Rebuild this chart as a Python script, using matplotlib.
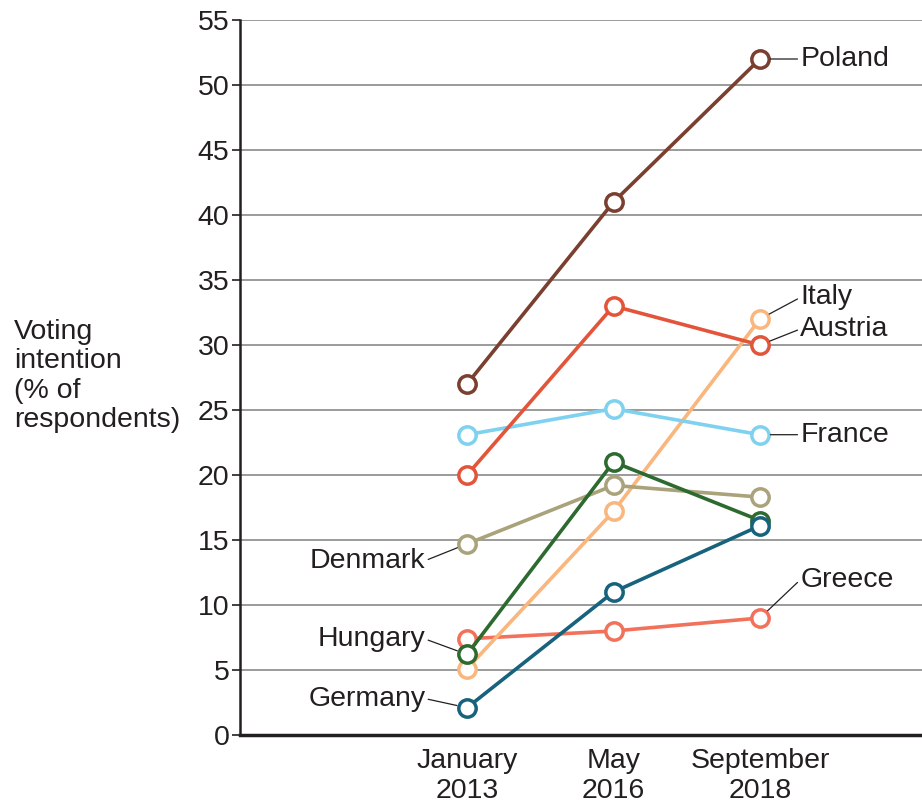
import matplotlib
matplotlib.use("Agg")
import matplotlib.pyplot as plt

plt.rcParams['font.family'] = ['Liberation Sans', 'DejaVu Sans']

# data
periods = ["January\n2013", "May\n2016", "September\n2018"]
countries = ["Poland", "Austria", "Italy", "France", "Denmark", "Hungary", "Germany", "Greece"]
poland = [27, 41, 52]
austria = [20, 33, 30]
italy = [5.1, 17.2, 32]
france = [23.1, 25.1, 23.1]
denmark = [14.7, 19.2, 18.3]
hungary = [6.2, 21, 16.5]
germany = [2.1, 11, 16.1]
greece = [7.4, 8, 9]
yticks = list(range(0, 56, 5))

series = {
    "Poland": (poland, "#7a3f2f"),
    "Austria": (austria, "#e2553a"),
    "Italy": (italy, "#f9b67d"),
    "France": (france, "#7ed1ef"),
    "Denmark": (denmark, "#a9a27a"),
    "Hungary": (hungary, "#2c6a2f"),
    "Germany": (germany, "#17627c"),
    "Greece": (greece, "#f2715a"),
}
draw_order = ["Greece", "Italy", "Denmark", "Hungary", "Germany", "France", "Austria", "Poland"]

# label placement: (point index, offset in points)
labels = {
    "Poland": (2, (29, 0)),
    "Italy": (2, (29, 15.5)),
    "Austria": (2, (29, 11.5)),
    "France": (2, (29, 0)),
    "Greece": (2, (29, 27.5)),
    "Denmark": (0, (-30, -12)),
    "Hungary": (0, (-30, 11)),
    "Germany": (0, (-30, 6.5)),
}

FS = 20.5
ink = "#231f20"

fig = plt.figure(figsize=(9.22, 8.05), dpi=100)
ax = fig.add_axes([240 / 922, 70 / 805, 682 / 922, 715 / 805])

x = list(range(len(periods)))
for name in draw_order:
    vals, col = series[name]
    ax.plot(x, vals, color=col, lw=2.6, marker="o", ms=12.5, mfc="white",
            mec=col, mew=2.5, zorder=3, clip_on=False)

for name in countries:
    vals, col = series[name]
    idx, off = labels[name]
    right = off[0] > 0
    ax.annotate(name, xy=(x[idx], vals[idx]), xytext=off, textcoords="offset points",
                ha="left" if right else "right", va="center", fontsize=FS, color=ink,
                arrowprops=dict(arrowstyle="-", color=ink, lw=0.9,
                                shrinkA=0, shrinkB=7.5,
                                relpos=(0, 0.5) if right else (1, 0.5)),
                zorder=4)

ax.set_xlim(-1.55, 3.106)
ax.set_ylim(0, 55)
ax.set_yticks(yticks)
ax.set_xticks(x)
ax.set_xticklabels(periods)
ax.tick_params(axis="x", length=0, pad=9, labelsize=FS, colors=ink)
ax.tick_params(axis="y", length=6, width=1.2, pad=1.5, labelsize=FS, colors=ink)
ax.grid(axis="y", color="#8a8a8a", lw=1.2, zorder=0)
ax.set_axisbelow(True)
for s in ["top", "right"]:
    ax.spines[s].set_visible(False)
ax.spines["left"].set_linewidth(1.8)
ax.spines["bottom"].set_linewidth(2.5)
ax.spines["left"].set_color(ink)
ax.spines["bottom"].set_color(ink)

fig.text(14 / 922, 1 - 376 / 805, "Voting\nintention\n(% of\nrespondents)",
         ha="left", va="center", fontsize=FS, color=ink, linespacing=1.17)

fig.savefig("out.png", dpi=100)
